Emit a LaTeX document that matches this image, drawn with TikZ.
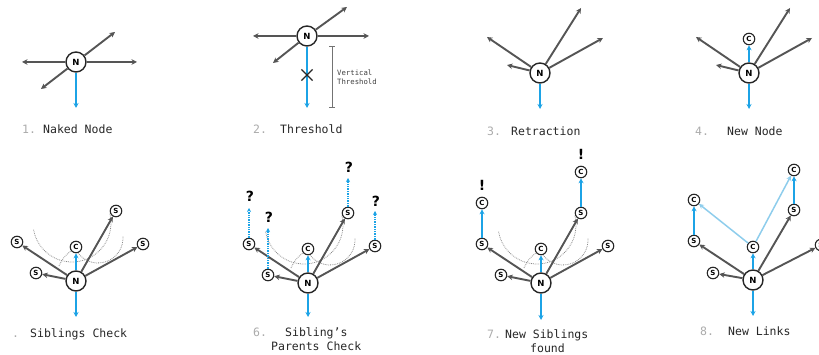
\documentclass[tikz,border=0pt]{standalone}
\usepackage{fontspec}
\usepackage{tikz}
\usepackage{xcolor}
\usetikzlibrary{arrows.meta,shapes.misc}

\newfontfamily\labelfont{DejaVu Sans Mono}
\newfontfamily\nodefont{DejaVu Sans}

\definecolor{linkgray}{HTML}{555555}
\definecolor{skyblue}{HTML}{1CA3E6}
\definecolor{paleblue}{HTML}{8ECDEC}
\definecolor{numgray}{HTML}{ABABAB}
\definecolor{arcgray}{HTML}{8A8A8A}

\begin{document}
\begin{tikzpicture}[x=1pt, y=1pt, >=Stealth,
    mainnode/.style={circle, draw=black!85, line width=1.4pt, fill=white, minimum size=20pt, inner sep=0pt,
        font=\nodefont\bfseries\fontsize{8.5}{8.5}\selectfont},
    subnode/.style={circle, draw=black!85, line width=1.1pt, fill=white, minimum size=11.5pt, inner sep=0pt,
        font=\nodefont\bfseries\fontsize{7}{7}\selectfont},
    link/.style={-{Stealth[length=5.5pt,width=5.5pt]}, line width=1.9pt, draw=linkgray},
    rise/.style={-{Stealth[length=5pt,width=5pt]}, line width=1.9pt, draw=skyblue},
    probe/.style={-{Stealth[length=4pt,width=4pt]}, line width=1.4pt, draw=skyblue, densely dotted},
    newlink/.style={-{Stealth[length=5pt,width=5pt]}, line width=1.5pt, draw=paleblue},
    arcline/.style={draw=arcgray, densely dotted, line width=0.8pt},
    flag/.style={inner sep=0pt, font=\nodefont\bfseries\fontsize{14}{14}\selectfont},
    numtext/.style={anchor=base west, inner sep=0pt, text=numgray, font=\labelfont\fontsize{11.5}{13}\selectfont},
    captext/.style={anchor=base west, inner sep=0pt, text=black!85, font=\labelfont\fontsize{11.5}{13}\selectfont}]

    \useasboundingbox (0,0) rectangle (819,355);
    \clip (0,0) rectangle (819,355);

    % 1. Naked node
    \begin{scope}[shift={(76,293)}]
        \node[mainnode] (N1) at (0,0) {N};
        \foreach \p/\x/\y in {l/-54/0, r/61/0, dl/-35/-27, ur/39/30}
            \coordinate (e1\p) at (\x,\y);
        \coordinate (d1) at (0,-46);
        \foreach \p in {l,r,dl,ur}
            \draw[link] (N1) -- (e1\p);
        \draw[rise] (N1) -- (d1);
    \end{scope}

    % 2. Threshold
    \begin{scope}[shift={(307,319)}]
        \node[mainnode] (N2) at (0,0) {N};
        \foreach \p/\x/\y in {l/-54/0, r/62/0, dl/-34/-27, ur/40/29}
            \coordinate (e2\p) at (\x,\y);
        \coordinate (d2) at (0,-72);
        \foreach \p in {l,r,dl,ur}
            \draw[link] (N2) -- (e2\p);
        \draw[rise] (N2) -- (d2);
        \node[cross out, draw=black!85, line width=1.2pt, minimum size=10pt, inner sep=0pt] (x2) at (0,-39) {};
        % vertical threshold
        \coordinate (t2a) at (25,-10);
        \coordinate (t2b) at (25,-72);
        \draw[{Bar[width=6pt]}-{Bar[width=6pt]}, draw=black!55, line width=0.8pt] (t2a) -- (t2b);
        \node[anchor=west, align=left, inner sep=0pt, text=black!75,
              font=\labelfont\fontsize{7.3}{9}\selectfont] (vt2) at (30,-41) {Vertical\\Threshold};
    \end{scope}

    % 3. Retraction
    \begin{scope}[shift={(540,282)}]
        \node[mainnode] (N3) at (0,0) {N};
        \foreach \p/\x/\y in {a/-53/36, b/-33/8, c/41/65, d/63/35}
            \coordinate (e3\p) at (\x,\y);
        \coordinate (d3) at (0,-36);
        \foreach \p in {a,b,c,d}
            \draw[link] (N3) -- (e3\p);
        \draw[rise] (N3) -- (d3);
    \end{scope}

    % 4. New node
    \begin{scope}[shift={(749,282)}]
        \node[mainnode] (N4) at (0,0) {N};
        \node[subnode] (C4) at (0,34) {C};
        \foreach \p/\x/\y in {a/-53/36, b/-33/8, c/41/65, d/63/35}
            \coordinate (e4\p) at (\x,\y);
        \coordinate (d4) at (0,-36);
        \foreach \p in {a,b,c,d}
            \draw[link] (N4) -- (e4\p);
        \draw[rise] (N4) -- (C4);
        \draw[rise] (N4) -- (d4);
    \end{scope}

    % 5. Siblings check
    \begin{scope}[shift={(76,74)}]
        \draw[arcline] (-4,58) ++(190:39) arc (190:375:39);
        \draw[arcline] (22,43) ++(200:25) arc (200:365:25);
        \draw[arcline] (-17,15) to[bend left=15] (-5,30);
        \node[mainnode] (N5) at (0,0) {N};
        \node[subnode] (C5) at (0,34) {C};
        \foreach \p/\x/\y in {a/-59/39, b/-40/8, c/40/70, d/67/37}{
            \node[subnode] (S5\p) at (\x,\y) {S};
            \draw[link] (N5) -- (S5\p);
        }
        \coordinate (d5) at (0,-36);
        \draw[rise] (N5) -- (C5);
        \draw[rise] (N5) -- (d5);
    \end{scope}

    % 6. Sibling's parents check
    \begin{scope}[shift={(308,72)}]
        \draw[arcline] (-4,58) ++(190:39) arc (190:375:39);
        \draw[arcline] (22,43) ++(200:25) arc (200:365:25);
        \draw[arcline] (-17,15) to[bend left=15] (-5,30);
        \node[mainnode] (N6) at (0,0) {N};
        \node[subnode] (C6) at (0,34) {C};
        \foreach \p/\x/\y in {a/-59/39, b/-40/8, c/40/70, d/67/37}{
            \node[subnode] (S6\p) at (\x,\y) {S};
            \draw[link] (N6) -- (S6\p);
        }
        \foreach \p/\x/\t/\q in {a/-59/75/87, b/-40/55/66, c/40/105/116, d/67/72/82}{
            \coordinate (q6\p) at (\x,\t);
            \draw[probe] (S6\p) -- (q6\p);
            \node[flag] (h6\p) at (\x+1,\q) {?};
        }
        \coordinate (d6) at (0,-34);
        \draw[rise] (N6) -- (C6);
        \draw[rise] (N6) -- (d6);
    \end{scope}

    % 7. New siblings found
    \begin{scope}[shift={(541,72)}]
        \draw[arcline] (-4,58) ++(190:39) arc (190:375:39);
        \draw[arcline] (22,43) ++(200:25) arc (200:365:25);
        \draw[arcline] (-17,15) to[bend left=15] (-5,30);
        \node[mainnode] (N7) at (0,0) {N};
        \node[subnode] (C7) at (0,34) {C};
        \foreach \p/\x/\y in {a/-59/39, b/-40/8, c/40/70, d/67/37}{
            \node[subnode] (S7\p) at (\x,\y) {S};
            \draw[link] (N7) -- (S7\p);
        }
        \foreach \p/\x/\t in {a/-59/80, c/40/111}{
            \node[subnode] (T7\p) at (\x,\t) {C};
            \draw[rise] (S7\p) -- (T7\p);
            \node[flag] (h7\p) at (\x,\t+18) {!};
        }
        \coordinate (d7) at (0,-37);
        \draw[rise] (N7) -- (C7);
        \draw[rise] (N7) -- (d7);
    \end{scope}

    % 8. New links
    \begin{scope}[shift={(753,75)}]
        \node[mainnode] (N8) at (0,0) {N};
        \node[subnode] (C8) at (0,33) {C};
        \foreach \p/\x/\y in {a/-59/39, b/-40/7, c/41/70, d/68/35}{
            \node[subnode] (S8\p) at (\x,\y) {S};
            \draw[link] (N8) -- (S8\p);
        }
        \foreach \p/\x/\t in {a/-59/80, c/41/110}{
            \node[subnode] (T8\p) at (\x,\t) {C};
            \draw[rise] (S8\p) -- (T8\p);
            \draw[newlink] (C8) -- (T8\p);
        }
        \coordinate (d8) at (0,-36);
        \draw[rise] (N8) -- (C8);
        \draw[rise] (N8) -- (d8);
    \end{scope}

    % Captions
    \node[numtext] (n1) at (22,221) {1.};
    \node[captext] (l1) at (43,221) {Naked Node};
    \node[numtext] (n2) at (253,221) {2.};
    \node[captext] (l2) at (280,221) {Threshold};
    \node[numtext] (n3) at (487,219.5) {3.};
    \node[captext] (l3) at (511,219.5) {Retraction};
    \node[numtext] (n4) at (695,219) {4.};
    \node[captext] (l4) at (727,219) {New Node};
    \node[numtext] (n5) at (12,17.5) {.};
    \node[captext] (l5) at (30,17.5) {Siblings Check};
    \node[numtext] (n6) at (253,18.3) {6.};
    \node[captext] (l6) at (285,18.3) {Sibling’s};
    \node[captext] (m6) at (271,4.3) {Parents Check};
    \node[numtext] (n7) at (487,16.7) {7.};
    \node[captext] (l7) at (505,16.7) {New Siblings};
    \node[captext] (m7) at (530,2) {found};
    \node[numtext] (n8) at (700,19.3) {8.};
    \node[captext] (l8) at (728,19.3) {New Links};
\end{tikzpicture}
\end{document}
